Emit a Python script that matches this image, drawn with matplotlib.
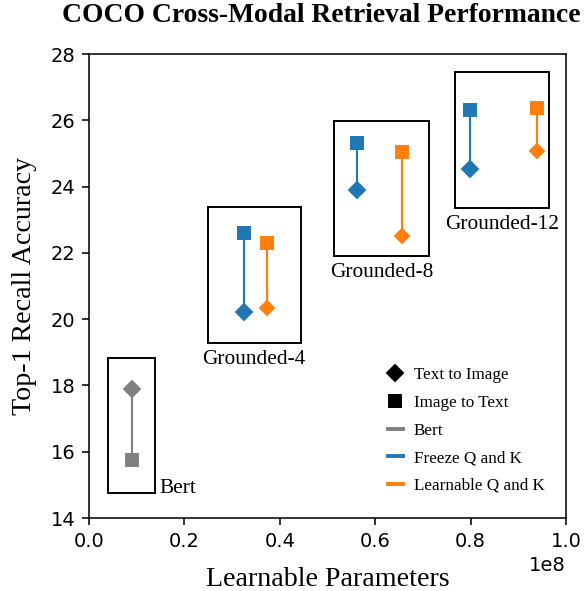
import matplotlib
matplotlib.use("Agg")
import matplotlib.pyplot as plt
from matplotlib.patches import Rectangle
from matplotlib.lines import Line2D

SERIF = ["Liberation Serif", "DejaVu Serif"]

# Data (x in learnable parameters; axis shows units of 1e8)
bert_x = [0.090e8]
bert_t2i = [17.89]
bert_i2t = [15.75]

groups = ["Grounded-4", "Grounded-8", "Grounded-12"]
freeze_x = [0.326e8, 0.562e8, 0.798e8]
freeze_t2i = [20.22, 23.90, 24.52]
freeze_i2t = [22.60, 25.31, 26.31]
learn_x = [0.373e8, 0.656e8, 0.939e8]
learn_t2i = [20.34, 22.51, 25.08]
learn_i2t = [22.30, 25.05, 26.37]

# surrounding boxes: (x0, x1, y0, y1)
box_bert = (0.040e8, 0.138e8, 14.75, 18.83)
boxes = [(0.249e8, 0.444e8, 19.28, 23.38),
         (0.514e8, 0.713e8, 21.90, 25.98),
         (0.767e8, 0.964e8, 23.35, 27.46)]

C_GRAY = "#808080"
C_BLUE = "#1f77b4"
C_ORANGE = "#ff7f0e"

DPI = 140
fig = plt.figure(figsize=(585 / DPI, 591 / DPI), dpi=DPI)
ax = fig.add_axes([0.152, 0.1235, 0.8155, 0.7851])

def pair(x, t2i, i2t, color, dms):
    for xi, a, b in zip(x, t2i, i2t):
        ax.plot([xi, xi], [a, b], color=color, lw=1.1, zorder=2)
        ax.plot([xi], [a], marker="D", ms=dms, color=color, ls="none", zorder=3)
        ax.plot([xi], [b], marker="s", ms=6.4, color=color, ls="none", zorder=3)

pair(bert_x, bert_t2i, bert_i2t, C_GRAY, 6.1)
pair(freeze_x, freeze_t2i, freeze_i2t, C_BLUE, 6.1)
pair(learn_x, learn_t2i, learn_i2t, C_ORANGE, 5.4)

def box(b):
    ax.add_patch(Rectangle((b[0], b[2]), b[1] - b[0], b[3] - b[2],
                           fill=False, ec="black", lw=1.0, zorder=1))

box(box_bert)
ax.text(box_bert[1] + 0.01e8, box_bert[2], "Bert", family=SERIF,
        fontsize=11, ha="left", va="baseline")
for name, b in zip(groups, boxes):
    box(b)
    ax.text((b[0] + b[1]) / 2, b[2] - 0.2, name, family=SERIF,
            fontsize=11, ha="center", va="top")

ax.set_xlim(0, 1.0e8)
ax.set_ylim(14, 28)
ax.set_yticks([14, 16, 18, 20, 22, 24, 26, 28])

ax.set_xlabel("Learnable Parameters", family=SERIF, fontsize=14.4, labelpad=8.5)
ax.set_ylabel("Top-1 Recall Accuracy", family=SERIF, fontsize=14.4, labelpad=7)
fig.text(321 / 585, 1 - 15 / 591, "COCO Cross-Modal Retrieval Performance",
         family=SERIF, fontsize=14.2, fontweight="bold",
         ha="center", va="center")

handles = [
    Line2D([], [], marker="D", color="black", ls="none", ms=5.8),
    Line2D([], [], marker="s", color="black", ls="none", ms=6),
    Line2D([], [], color=C_GRAY, lw=2),
    Line2D([], [], color=C_BLUE, lw=2),
    Line2D([], [], color=C_ORANGE, lw=2),
]
labels = ["Text to Image", "Image to Text", "Bert", "Freeze Q and K",
          "Learnable Q and K"]
ax.legend(handles, labels, loc="lower right", frameon=False,
          prop={"family": SERIF, "size": 8.8}, handlelength=0.9,
          handletextpad=0.64, labelspacing=0.68,
          bbox_to_anchor=(0.988, 0.019))

fig.savefig("out.png", dpi=DPI)
